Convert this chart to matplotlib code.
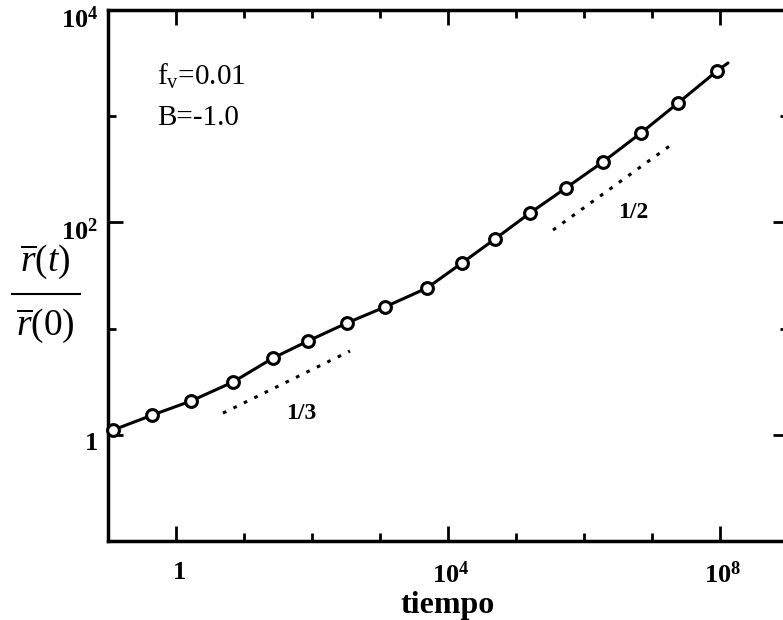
import matplotlib
matplotlib.use("Agg")
import matplotlib.pyplot as plt
from matplotlib.ticker import FixedLocator, NullFormatter, FixedFormatter
from matplotlib.transforms import ScaledTranslation

plt.rcParams['mathtext.fontset'] = 'custom'
plt.rcParams['mathtext.rm'] = 'Liberation Serif'
plt.rcParams['mathtext.it'] = 'Liberation Serif:italic'
plt.rcParams['mathtext.bf'] = 'Liberation Serif:bold'
plt.rcParams['font.family'] = ['Liberation Serif', 'DejaVu Serif']

# data
t_points = [0.119, 0.444, 1.66, 6.89, 26.7, 87.3, 327, 1186, 4909, 16070,
            49090, 160700, 543000, 1.90e6, 6.89e6, 2.41e7, 9.04e7]
r_points = [1.11, 1.53, 2.08, 3.14, 5.28, 7.64, 11.3, 16.0, 24.1, 41.5,
            69.8, 122.7, 211, 371, 695, 1330, 2667]
t_line_end = 1.31e8
r_line_end = 3170

guide13_t = [4.91, 362]
guide13_r = [1.60, 6.15]
guide12_t = [3.50e5, 2.18e7]
guide12_r = [84.7, 571]

x_major = [1, 1e4, 1e8]
x_major_labels = [r'$\mathbf{1}$', r'$\mathbf{10^{4}}$', r'$\mathbf{10^{8}}$']
x_minor = [1e-1, 1e1, 1e2, 1e3, 1e5, 1e6, 1e7, 1e9]
y_major = [1, 1e2, 1e4]
y_major_labels = [r'$\mathbf{1}$', r'$\mathbf{10^{2}}$', r'$\mathbf{10^{4}}$']
y_minor = [1e-1, 1e1, 1e3]

fig = plt.figure(figsize=(7.83, 6.2), dpi=100)
ax = fig.add_axes([108/783, 79/620, 680/783, 531/620])
ax.set_xscale('log')
ax.set_yscale('log')
ax.set_xlim(1e-1, 1e9)
ax.set_ylim(1e-1, 1e4)

line_t = t_points + [t_line_end]
line_r = r_points + [r_line_end]
ax.plot(line_t, line_r, '-', color='black', lw=2.2, solid_capstyle='round', zorder=3)
ax.plot(t_points, r_points, 'o', color='black', mfc='white', mew=2.2, ms=8.5,
        zorder=4, clip_on=False)

ax.plot(guide13_t, guide13_r, color='black', lw=2.2, linestyle=(0, (1.2, 2.6)),
        dash_capstyle='butt')
ax.plot(guide12_t, guide12_r, color='black', lw=2.2, linestyle=(0, (1.2, 2.6)),
        dash_capstyle='butt')
ax.text(68.9, 1.60, '1/3', fontsize=17, fontweight='bold', ha='center', va='center')
ax.text(5.25e6, 123, '1/2', fontsize=17, fontweight='bold', ha='center', va='center')

ax.text(0.526, 1968, r'f$_{\mathrm{v}}$=0.01', fontsize=21, ha='left', va='baseline')
ax.text(0.526, 826, 'B=-1.0', fontsize=21, ha='left', va='baseline')

for s in ax.spines.values():
    s.set_linewidth(2.5)

ax.xaxis.set_major_locator(FixedLocator(x_major))
ax.xaxis.set_major_formatter(FixedFormatter(x_major_labels))
ax.xaxis.set_minor_locator(FixedLocator(x_minor))
ax.xaxis.set_minor_formatter(NullFormatter())
ax.yaxis.set_major_locator(FixedLocator(y_major))
ax.yaxis.set_major_formatter(FixedFormatter(y_major_labels))
ax.yaxis.set_minor_locator(FixedLocator(y_minor))
ax.yaxis.set_minor_formatter(NullFormatter())

ax.tick_params(which='both', direction='in', top=True, right=True, width=2)
ax.tick_params(which='major', length=11, labelsize=19)
ax.tick_params(which='minor', length=6)
ax.tick_params(axis='x', which='major', pad=15)
ax.tick_params(axis='y', which='major', pad=7)

ax.set_xlabel('tiempo', fontsize=23, fontweight='bold', labelpad=2)

fig.canvas.draw()
off = ScaledTranslation(0, -7/100, fig.dpi_scale_trans)
for lab in ax.get_yticklabels():
    lab.set_transform(lab.get_transform() + off)
offx = ScaledTranslation(3/100, 0, fig.dpi_scale_trans)
for lab in ax.get_xticklabels():
    lab.set_transform(lab.get_transform() + offx)

fig.text(45/783, 1 - 262/620, r'$\overline{r}(t)$', fontsize=27, ha='center', va='center')
fig.text(45/783, 1 - 326/620, r'$\overline{r}(0)$', fontsize=27, ha='center', va='center')
fig.add_artist(plt.Line2D([12/783, 80/783], [1 - 294/620, 1 - 294/620],
                          color='black', lw=1.5, transform=fig.transFigure))

fig.savefig('out.png', dpi=100)
